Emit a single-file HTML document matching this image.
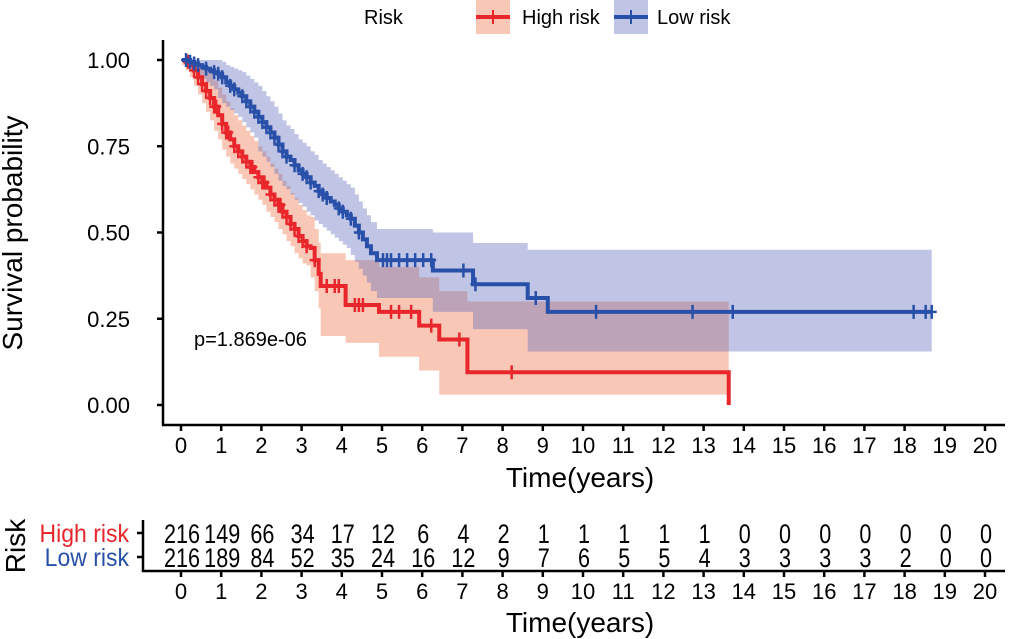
<!DOCTYPE html>
<html><head><meta charset="utf-8"><style>
html,body{margin:0;padding:0;background:#fff;}
svg{display:block;font-family:"Liberation Sans",Arial,sans-serif;}
</style></head><body>
<svg id="chart" width="1020" height="639" viewBox="0 0 1020 639"></svg>
<script>
const highT  = [0,0.1,0.2,0.3,0.4,0.5,0.6,0.7,0.8,0.9,1.0,1.1,1.2,1.3,1.4,1.5,1.6,1.7,1.8,1.9,2.0,2.1,2.2,2.3,2.4,2.5,2.6,2.7,2.8,2.9,3.0,3.1,3.2,3.3,3.4,3.45,4.07,4.9,5.9,6.4,7.1,13.6];
const highS  = [1,0.995,0.985,0.97,0.95,0.93,0.91,0.89,0.865,0.84,0.815,0.79,0.77,0.75,0.735,0.72,0.705,0.69,0.675,0.66,0.645,0.63,0.61,0.595,0.58,0.56,0.545,0.525,0.51,0.49,0.475,0.46,0.455,0.42,0.38,0.345,0.29,0.27,0.23,0.19,0.095,0];
const highHi = [1,1,1,1,0.99,0.98,0.97,0.96,0.94,0.92,0.90,0.88,0.86,0.84,0.825,0.81,0.795,0.78,0.765,0.75,0.735,0.72,0.70,0.685,0.67,0.65,0.635,0.615,0.60,0.58,0.565,0.55,0.545,0.51,0.47,0.44,0.42,0.40,0.37,0.33,0.30,0.30];
const highLo = [1,0.985,0.97,0.95,0.925,0.90,0.875,0.85,0.825,0.795,0.77,0.74,0.72,0.70,0.685,0.67,0.655,0.64,0.625,0.61,0.595,0.58,0.56,0.545,0.53,0.51,0.495,0.475,0.46,0.44,0.425,0.41,0.405,0.37,0.33,0.28,0.20,0.18,0.14,0.10,0.03,0.03];
const highCens = [0.15,0.3,0.4,0.5,0.6,0.7,0.8,0.85,1.0,1.1,1.15,1.3,1.4,1.5,1.6,1.7,1.75,1.9,2.0,2.05,2.2,2.3,2.4,2.45,2.5,2.6,2.7,2.8,2.9,3.0,3.1,3.3,3.6,3.8,3.9,4.3,4.4,4.5,5.2,5.4,5.7,6.2,6.9,8.2];
const lowT  = [0,0.1,0.2,0.3,0.4,0.5,0.6,0.7,0.8,0.9,1.0,1.1,1.2,1.3,1.4,1.5,1.6,1.7,1.8,1.9,2.0,2.1,2.2,2.3,2.4,2.5,2.6,2.7,2.8,2.9,3.0,3.1,3.2,3.3,3.4,3.5,3.6,3.7,3.8,3.9,4.0,4.1,4.2,4.3,4.4,4.5,4.6,4.7,4.85,6.24,7.24,8.6,9.1,18.65];
const lowS  = [1,1,0.995,0.99,0.985,0.98,0.975,0.97,0.965,0.96,0.95,0.935,0.925,0.915,0.905,0.895,0.88,0.865,0.85,0.835,0.82,0.805,0.79,0.775,0.755,0.735,0.72,0.71,0.695,0.68,0.67,0.66,0.645,0.635,0.62,0.61,0.60,0.59,0.58,0.57,0.56,0.55,0.54,0.52,0.50,0.48,0.46,0.44,0.42,0.39,0.35,0.31,0.27,0.27];
const lowHi = [1,1,1,1,1,1,1,1,1,1,0.995,0.985,0.98,0.975,0.97,0.965,0.955,0.945,0.935,0.925,0.91,0.895,0.88,0.865,0.845,0.825,0.81,0.80,0.785,0.77,0.76,0.75,0.735,0.725,0.71,0.70,0.69,0.68,0.67,0.66,0.65,0.64,0.63,0.61,0.59,0.57,0.55,0.53,0.51,0.50,0.47,0.45,0.45,0.45];
const lowLo = [1,1,0.985,0.975,0.965,0.955,0.945,0.935,0.925,0.915,0.89,0.875,0.865,0.855,0.845,0.835,0.82,0.805,0.79,0.775,0.735,0.72,0.705,0.69,0.67,0.65,0.635,0.625,0.61,0.595,0.585,0.575,0.56,0.55,0.535,0.525,0.515,0.505,0.495,0.485,0.475,0.465,0.455,0.435,0.415,0.395,0.375,0.355,0.33,0.31,0.27,0.22,0.155,0.155];
const lowCens = [0.1,0.2,0.3,0.4,0.6,0.8,0.9,1.0,1.2,1.3,1.5,1.6,1.7,1.8,1.9,2.0,2.1,2.2,2.3,2.4,2.5,2.6,2.8,3.0,3.1,3.2,3.4,3.5,3.6,3.9,4.0,4.2,4.4,5.0,5.1,5.2,5.4,5.6,5.8,6.0,6.2,7.0,7.3,8.8,10.3,12.7,13.7,18.2,18.5,18.65];
const xTicks = [0,1,2,3,4,5,6,7,8,9,10,11,12,13,14,15,16,17,18,19,20];
const yTicks = [0,0.25,0.5,0.75,1.0];
const yTickLabels = ["0.00","0.25","0.50","0.75","1.00"];
const highRisk = [216,149,66,34,17,12,6,4,2,1,1,1,1,1,0,0,0,0,0,0,0];
const lowRisk  = [216,189,84,52,35,24,16,12,9,7,6,5,5,4,3,3,3,3,2,0,0];
const pLabel = "p=1.869e-06";

const NS="http://www.w3.org/2000/svg";
const svg=document.getElementById('chart');
function el(tag,attrs,parent){const e=document.createElementNS(NS,tag);for(const k in attrs)e.setAttribute(k,attrs[k]);(parent||svg).appendChild(e);return e;}
const xs=t=>182+t*40.2;
const ys=v=>405-v*345;
const RED="#E8262B", BLUE="#2850A8";

function stepPath(T,S){let d="M"+xs(T[0])+","+ys(S[0]);for(let i=1;i<T.length;i++){d+=" H"+xs(T[i])+" V"+ys(S[i]);}return d;}
function bandPath(T,H,L){let d="M"+xs(T[0])+","+ys(H[0]);for(let i=1;i<T.length;i++){d+=" H"+xs(T[i])+" V"+ys(H[i]);}
 for(let i=T.length-1;i>=1;i--){d+=" V"+ys(L[i])+" H"+xs(T[i-1]);}d+=" V"+ys(L[0])+" Z";return d;}
function stepVal(T,S,t){let v=S[0];for(let i=0;i<T.length;i++){if(T[i]<=t)v=S[i];}return v;}

const b1=el('path',{d:bandPath(highT,highHi,highLo),fill:"rgb(240,130,90)","fill-opacity":0.45});


const b2=el('path',{d:bandPath(lowT,lowHi,lowLo),fill:"rgb(100,110,190)","fill-opacity":0.4});



function curve(T,S,C,color,name){
 const p=el('path',{d:stepPath(T,S),fill:"none",stroke:color,"stroke-width":4});
 
 
 C.forEach(t=>{const x=xs(t),y=ys(stepVal(T,S,t));
  const m=el('path',{d:`M${x},${y-7} V${y+7} M${x-5},${y} H${x+5}`,stroke:color,"stroke-width":2.5});
  
  
 });
}
curve(highT,highS,highCens,RED,'high-risk');
curve(lowT,lowS,lowCens,BLUE,'low-risk');

const ax=el('path',{d:"M163,40 V425 H1005",fill:"none",stroke:"#000","stroke-width":2.5});


yTicks.forEach((v,i)=>{const y=ys(v);
 el('line',{x1:157,x2:163,y1:y,y2:y,stroke:"#000","stroke-width":2.5});
 const t=el('text',{x:130,y:y+8,"text-anchor":"end","font-size":22,fill:"#000"});t.textContent=yTickLabels[i];
 
 
});
function xAxis(yAxis,labY,titleY,prefix){
 xTicks.forEach(v=>{const x=xs(v)-1;
  el('line',{x1:x,x2:x,y1:yAxis,y2:yAxis+6,stroke:"#000","stroke-width":2.5});
  const t=el('text',{x:x,y:labY,"text-anchor":"middle","font-size":22,fill:"#000"});t.textContent=v;
  
  
 });
 const tt=el('text',{x:580,y:titleY,"text-anchor":"middle","font-size":28,fill:"#000"});tt.textContent="Time(years)";
 
 
}
xAxis(425,453,487,'main');
const yt=el('text',{x:0,y:0,"text-anchor":"middle","font-size":28,fill:"#000",transform:"translate(22,233) rotate(-90)"});yt.textContent="Survival probability";


const pv=el('text',{x:194,y:346,"font-size":20,fill:"#000"});pv.textContent=pLabel;



const lg=el('g',{});


const lt=el('text',{x:364,y:24,"font-size":20,fill:"#000"},lg);lt.textContent="Risk";
el('rect',{x:476,y:0,width:34,height:34,fill:"rgb(248,199,181)"},lg);
el('line',{x1:476,x2:510,y1:17,y2:17,stroke:RED,"stroke-width":4},lg);
el('path',{d:"M493,10 V24",stroke:RED,"stroke-width":2},lg);
const l1=el('text',{x:522,y:24,"font-size":20,fill:"#000"},lg);l1.textContent="High risk";


el('rect',{x:614,y:0,width:34,height:34,fill:"rgb(193,197,229)"},lg);
el('line',{x1:614,x2:648,y1:17,y2:17,stroke:BLUE,"stroke-width":4},lg);
el('path',{d:"M631,10 V24",stroke:BLUE,"stroke-width":2},lg);
const l2=el('text',{x:657,y:24,"font-size":20,fill:"#000"},lg);l2.textContent="Low risk";



const rax=el('path',{d:"M143,520 V571 H1005",fill:"none",stroke:"#000","stroke-width":2.5});


[[533,RED,"High risk",highRisk,'high'],[557,BLUE,"Low risk",lowRisk,'low']].forEach(r=>{
 el('line',{x1:137,x2:143,y1:r[0],y2:r[0],stroke:"#000","stroke-width":2.5});
 const lab=el('text',{x:0,y:0,"text-anchor":"end","font-size":25,fill:r[1],transform:`translate(129,${r[0]+9}) scale(0.92,1)`});lab.textContent=r[2];
 
 
 r[3].forEach((n,i)=>{const t=el('text',{x:0,y:0,"text-anchor":"middle","font-size":27,fill:"#000",transform:`translate(${xs(xTicks[i])},${r[0]+10}) scale(0.8,1)`});t.textContent=n;
  
  
 });
});
xAxis(571,599,632,'table');
const rt=el('text',{x:0,y:0,"text-anchor":"middle","font-size":28,fill:"#000",transform:"translate(25,546) rotate(-90)"});rt.textContent="Risk";


</script>
</body></html>
